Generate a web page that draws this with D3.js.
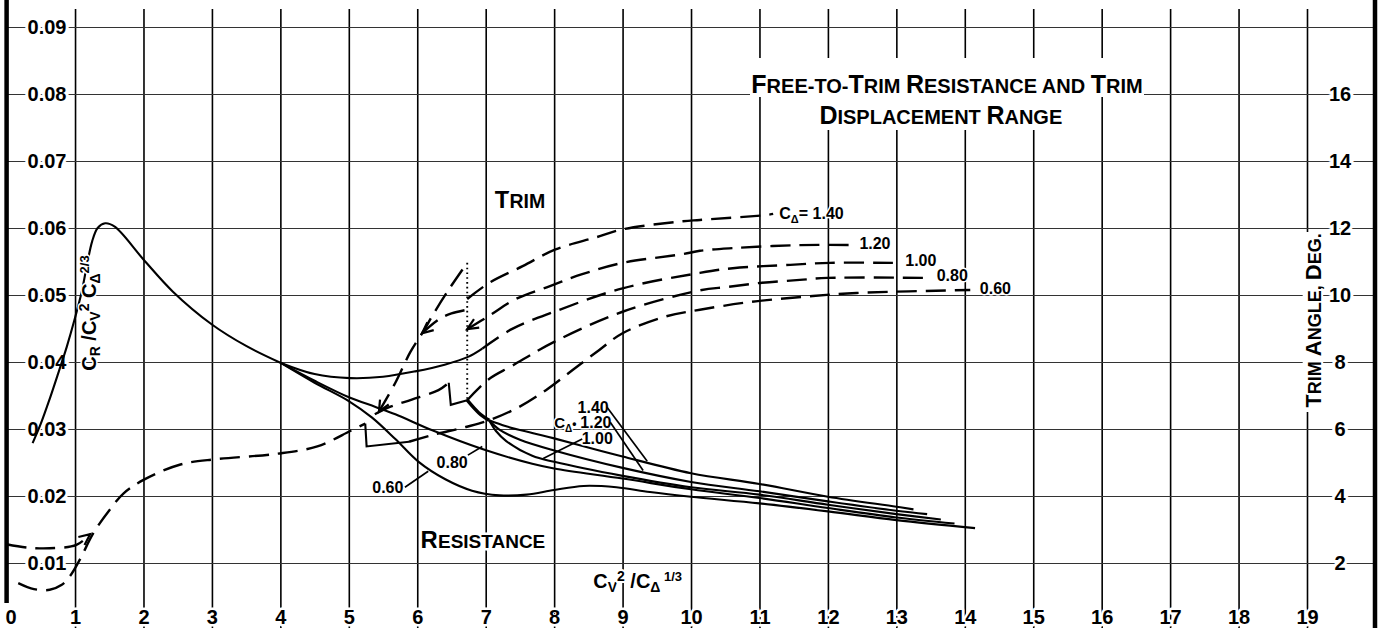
<!DOCTYPE html>
<html>
<head>
<meta charset="utf-8">
<title>Free-to-Trim Resistance and Trim</title>
<script src="https://cdn.jsdelivr.net/npm/d3@7/dist/d3.min.js"></script>
<style>
  html, body { margin:0; padding:0; background:#fff; }
  svg { display:block; }
</style>
</head>
<body>
<svg id="chart" width="1383" height="628"></svg>
<script>
// ---------------- data ----------------
const xTickValues = d3.range(0, 20);                       // Cv^2 / CΔ^(1/3)
const coefTickValues = [0.01,0.02,0.03,0.04,0.05,0.06,0.07,0.08,0.09];
const trimTickValues = [2,4,6,8,10,12,14,16];             // trim angle, deg
const loadings = ["1.40","1.20","1.00","0.80","0.60"];

// resistance coefficient  CR / Cv^2 CΔ^(2/3)   [x, coef]
const resCommon = [[0.38,0.0279],[0.5,0.0308],[0.63,0.0345],[0.76,0.0385],[0.88,0.0423],[1.0,0.0466],[1.1,0.0506],[1.18,0.0548],[1.25,0.0580],[1.33,0.0600],[1.44,0.0607],[1.58,0.0602],[2.0,0.0553],[2.43,0.0505],[3.0,0.0456],[3.5,0.0424],[4.0,0.0399]];
const resUpper  = [[4.0,0.0399],[4.5,0.0382],[5.02,0.0376],[5.5,0.0378],[5.97,0.0386],[6.4,0.0396],[6.75,0.0408],[6.95,0.0420]];
const res080    = [[4.0,0.0399],[4.5,0.0372],[5.01,0.0347],[5.39,0.0333],[5.68,0.0322],[6.22,0.0298],[6.95,0.0270],[7.68,0.0248],[8.0,0.0241],[9.0,0.0226],[10.0,0.0210],[11.0,0.0197],[12.0,0.0182],[13.0,0.0168],[13.85,0.0159]];
const res060    = [[4.0,0.0399],[4.5,0.0369],[5.01,0.0341],[5.34,0.0317],[5.68,0.0285],[6.02,0.0251],[6.41,0.0225],[6.8,0.0208],[7.2,0.0201],[7.6,0.0202],[8.0,0.0209],[8.43,0.0215],[8.91,0.0213],[9.4,0.0206],[10.0,0.0199],[11.0,0.0189],[12.0,0.0177],[13.0,0.0164],[14.15,0.0152]];
const resJump   = [[6.73,0.0343],[6.9,0.0324],[7.05,0.0313]];
const res140    = [[7.05,0.0313],[7.3,0.0304],[7.68,0.0294],[8.0,0.0286],[8.66,0.0268],[9.0,0.0259],[10.0,0.0234],[11.0,0.0218],[12.0,0.0199],[13.0,0.0184],[13.25,0.0180]];
const res120    = [[7.05,0.0313],[7.2,0.0299],[7.5,0.0284],[8.0,0.0268],[9.0,0.0242],[10.0,0.0221],[11.0,0.0207],[12.0,0.0192],[13.0,0.0178],[13.45,0.0173]];
const res100    = [[7.05,0.0313],[7.15,0.0297],[7.3,0.0282],[7.68,0.0260],[8.0,0.0251],[9.0,0.0230],[10.0,0.0213],[11.0,0.0202],[12.0,0.0187],[13.0,0.0173],[13.65,0.0165]];

// trim angle, deg   [x, deg]
const trimLow     = [[0.17,1.40],[0.4,1.22],[0.63,1.20],[0.8,1.34],[0.93,1.62],[1.07,2.1],[1.27,2.9],[1.51,3.6],[1.71,4.08],[2.0,4.48],[2.54,4.94],[3.07,5.1],[3.95,5.26],[4.54,5.48],[5.02,5.94],[5.24,6.16]];
const trimReturn  = [[0.0,2.56],[0.3,2.46],[0.63,2.44],[1.02,2.54],[1.22,2.86]];
const trimStep060 = [[5.24,6.16],[5.26,5.48],[5.88,5.62]];
const trim060     = [[5.88,5.62],[6.22,5.82],[6.71,6.06],[7.05,6.26],[7.49,6.66],[7.88,7.16],[8.27,7.76],[8.66,8.36],[9.0,8.86],[9.63,9.36],[10.13,9.56],[10.86,9.79],[11.78,9.97],[12.42,10.06],[14.08,10.15]];
const trim080a    = [[5.38,6.44],[5.6,6.66],[5.92,6.88],[6.31,7.16],[6.46,7.38]];
const trimStep080 = [[6.46,7.38],[6.49,6.72],[6.73,6.86]];
const trim080     = [[6.73,6.86],[7.04,7.48],[7.38,7.88],[8.0,8.6],[9.0,9.5],[10.13,10.14],[10.53,10.24],[11.01,10.36],[11.59,10.45],[11.99,10.51],[13.39,10.51]];
const trim100     = [[6.95,8.40],[7.38,8.98],[8.0,9.5],[9.0,10.2],[10.13,10.66],[10.61,10.8],[11.45,10.9],[12.03,10.96],[12.95,10.96]];
const trim120     = [[6.73,8.98],[7.05,9.38],[7.44,9.88],[7.93,10.26],[8.41,10.62],[9.0,10.96],[9.88,11.22],[10.13,11.32],[10.61,11.4],[11.59,11.49],[12.43,11.49]];
const trim140     = [[6.73,9.88],[7.05,10.36],[7.54,10.86],[8.02,11.36],[8.61,11.72],[9.0,11.96],[9.88,12.2],[10.13,12.24],[11.11,12.39],[11.2,12.42]];
const trimSpike   = [[5.44,6.52],[5.68,7.38],[5.9,8.3],[6.1,8.95],[6.22,9.38],[6.46,10.16],[6.73,10.96]];
const trimBranch  = [[6.07,8.86],[6.32,9.28],[6.5,9.45],[6.73,9.56]];
const trimDotted  = [[6.73,10.96],[6.73,6.86]];

// ---------------- layout ----------------
const W = 1383, H = 628, RIGHT = 1375;
const FONT = "'Liberation Sans', Arial, sans-serif";
const svg = d3.select('#chart');
svg.append('rect').attr('width', W).attr('height', H).attr('fill', '#fff');

const x  = d3.scaleLinear().domain([0, 19]).range([6.6, 1307]);
const yC = d3.scaleLinear().domain([0, 0.09]).range([630, 27]);
const yT = d3.scaleLinear().domain([0, 18]).range([630, 27]);

function halo(sel, w) {
  return sel.attr('stroke', '#fff').attr('stroke-width', w).attr('paint-order', 'stroke').attr('stroke-linejoin', 'round');
}

// vertical grid + x tick labels
const gx = svg.append('g').attr('transform', `translate(0,${H})`)
  .call(d3.axisBottom(x).tickValues(xTickValues).tickSize(-(H - 9)).tickPadding(0).tickFormat(d3.format('d')));
gx.select('.domain').remove();
gx.selectAll('.tick').filter(d => d === 0).select('line').remove();
gx.selectAll('.tick line').attr('stroke', '#000').attr('stroke-width', 1.6);
gx.selectAll('.tick text').attr('y', -11).attr('dy', '0.36em')
  .attr('font-family', FONT).attr('font-weight', 'bold').attr('font-size', 20).attr('fill', '#000')
  .call(halo, 5);
gx.selectAll('.tick').filter(d => d === 0).select('text').attr('x', 4);

// horizontal grid + left tick labels
const gy = svg.append('g').attr('transform', `translate(${x(0)},0)`)
  .call(d3.axisLeft(yC).tickValues(coefTickValues).tickSize(-(RIGHT - x(0))).tickFormat(d3.format('.2f')));
gy.select('.domain').remove();
gy.selectAll('.tick line').attr('stroke', '#333').attr('stroke-width', 1.1);
gy.selectAll('.tick text').attr('x', 47 - x(0)).attr('text-anchor', 'middle')
  .attr('font-family', FONT).attr('font-weight', 'bold').attr('font-size', 20).attr('fill', '#000')
  .call(halo, 6);

// right tick labels (trim angle)
const gr = svg.append('g').attr('transform', 'translate(1340,0)')
  .call(d3.axisRight(yT).tickValues(trimTickValues).tickSize(0).tickPadding(0));
gr.select('.domain').remove();
gr.selectAll('.tick line').remove();
gr.selectAll('.tick text').attr('x', 0).attr('text-anchor', 'middle')
  .attr('font-family', FONT).attr('font-weight', 'bold').attr('font-size', 20).attr('fill', '#000')
  .call(halo, 6);

// heavy frame lines
svg.append('line').attr('x1', x(0)).attr('x2', x(0)).attr('y1', 0).attr('y2', 603)
  .attr('stroke', '#000').attr('stroke-width', 4.5);
svg.append('line').attr('x1', RIGHT).attr('x2', RIGHT).attr('y1', 0).attr('y2', H)
  .attr('stroke', '#000').attr('stroke-width', 4.5);

// ---------------- curves ----------------
const lineC = d3.line().x(d => x(d[0])).y(d => yC(d[1])).curve(d3.curveCatmullRom.alpha(0.5));
const lineT = d3.line().x(d => x(d[0])).y(d => yT(d[1])).curve(d3.curveCatmullRom.alpha(0.5));
const lineTLin = d3.line().x(d => x(d[0])).y(d => yT(d[1]));
const lineCLin = d3.line().x(d => x(d[0])).y(d => yC(d[1]));

const cg = svg.append('g').attr('fill', 'none').attr('stroke', '#000');

[resCommon, resUpper, res080, res060, res140, res120, res100].forEach(s =>
  cg.append('path').attr('d', lineC(s)).attr('stroke-width', 2.1));
cg.append('path').attr('d', lineC(resJump)).attr('stroke-width', 3.4);

[trimLow, trimReturn, trim060, trim080a, trim080, trim100, trim120, trim140, trimSpike, trimBranch].forEach(s =>
  cg.append('path').attr('d', lineT(s)).attr('stroke-width', 2.4).attr('stroke-dasharray', '20,9'));
[trimStep060, trimStep080].forEach(s =>
  cg.append('path').attr('d', lineTLin(s)).attr('stroke-width', 2.1));
cg.append('path').attr('d', lineTLin(trimDotted)).attr('stroke-width', 1.9).attr('stroke-dasharray', '1.6,3.2');

// arrowheads (open chevrons) oriented along the series
function arrow(series, atStart) {
  const P = series.map(d => [x(d[0]), yT(d[1])]);
  const tip = atStart ? P[0] : P[P.length - 1];
  const from = atStart ? P[1] : P[P.length - 2];
  const a = Math.atan2(tip[1] - from[1], tip[0] - from[0]);
  const L = 11, w = 5;
  const bx = tip[0] - L * Math.cos(a), by = tip[1] - L * Math.sin(a);
  const p1 = [bx + w * Math.sin(a), by - w * Math.cos(a)];
  const p2 = [bx - w * Math.sin(a), by + w * Math.cos(a)];
  cg.append('path').attr('d', `M${p1}L${tip}L${p2}`).attr('stroke-width', 2.2);
}
arrow(trimReturn, false);
arrow(trimSpike, true);
arrow(trimBranch, true);
arrow(trim120, true);

// ---------------- annotations ----------------
const ag = svg.append('g');
function rich(px, py, segs, o = {}) {
  const t = ag.append('text').attr('x', px).attr('y', py)
    .attr('font-family', FONT).attr('font-weight', 'bold').attr('fill', '#000')
    .attr('text-anchor', o.anchor || 'start');
  if (o.rotate) t.attr('transform', `rotate(${o.rotate},${px},${py})`);
  if (o.halo) halo(t, o.halo);
  segs.forEach(s => {
    const ts = t.append('tspan').attr('font-size', s[1]).text(s[0]);
    if (s[2]) ts.attr('dy', s[2]);
  });
  return t;
}
function leaderC(a, b) {
  ag.append('path').attr('d', lineCLin([a, b])).attr('stroke', '#000').attr('stroke-width', 1.7).attr('fill', 'none');
}

// title (white box behind, like the original)
ag.append('rect').attr('x', 750).attr('y', 58).attr('width', 394).attr('height', 39).attr('fill', '#fff');
ag.append('rect').attr('x', 814).attr('y', 97).attr('width', 254).attr('height', 33).attr('fill', '#fff');
rich(x(13.74), yC(0.0801), [['F',25],['REE-TO-',20],['T',25],['RIM ',20],['R',25],['ESISTANCE AND ',20],['T',25],['RIM',20]], {anchor:'middle'});
rich(x(13.65), yC(0.0755), [['D',25],['ISPLACEMENT ',20],['R',25],['ANGE',20]], {anchor:'middle'});

// TRIM / RESISTANCE
rich(x(7.5), yC(0.0630), [['T',24],['RIM',19.5]], {anchor:'middle', halo:5});
rich(x(6.96), yC(0.0123), [['R',24],['ESISTANCE',19]], {anchor:'middle', halo:5});

// axis titles
rich(x(9.22), yC(0.00627), [['C',20],['V',14,4],['2',14,-11],['   /C',20,7],['Δ',14,4],[' 1/3',13,-11]], {anchor:'middle', halo:4});
rich(x(1.30), yC(0.0473), [['C',20],['R',14,4],['  /C',20,-4],['V',14,4],['2',14,-11],['  C',20,7],['Δ',14,4],['2/3',13,-11]], {anchor:'middle', rotate:-90, halo:3});
ag.append('rect').attr('x', x(19.2) - 18).attr('y', 232).attr('width', 20).attr('height', 180).attr('fill', '#fff');
rich(x(19.2), yC(0.0462), [['T',22],['RIM ',18],['A',22],['NGLE, ',18],['D',22],['EG.',18]], {anchor:'middle', rotate:-90, halo:4});

// trim curve labels (right ends)
rich(x(11.29), yT(12.45) + 6, [['C',16],['Δ',11,4],['= 1.40',16,-4]], {halo:3});
rich(x(12.46), yT(11.55) + 6, [[loadings[1],16]], {halo:3});
rich(x(13.13), yT(11.04) + 6, [[loadings[2],16]], {halo:3});
rich(x(13.59), yT(10.60) + 6, [[loadings[3],16]], {halo:3});
rich(x(14.22), yT(10.20) + 6, [[loadings[4],16]], {halo:3});

// resistance curve labels with leaders
rich(x(5.57), yC(0.0213) + 6, [[loadings[4],16]], {anchor:'middle', halo:3});
leaderC([5.82,0.0213],[6.16,0.0237]);
rich(x(6.51), yC(0.0251) + 6, [[loadings[3],16]], {anchor:'middle', halo:3});
leaderC([6.74,0.0261],[6.95,0.0274]);
rich(x(8.57), yC(0.0333) + 6, [[loadings[0],16]], {anchor:'middle', halo:3});
leaderC([8.77,0.0333],[9.36,0.0252]);
rich(x(8.0), yC(0.0310) + 6, [['C',15],['Δ',10,4],['•',12,-4]], {halo:3});
rich(x(8.61), yC(0.0310) + 6, [[loadings[1],16]], {anchor:'middle', halo:3});
leaderC([8.82,0.0310],[9.30,0.0238]);
rich(x(8.63), yC(0.0287) + 6, [[loadings[2],16]], {anchor:'middle', halo:3});
leaderC([8.41,0.0285],[7.84,0.0256]);
</script>
</body>
</html>
